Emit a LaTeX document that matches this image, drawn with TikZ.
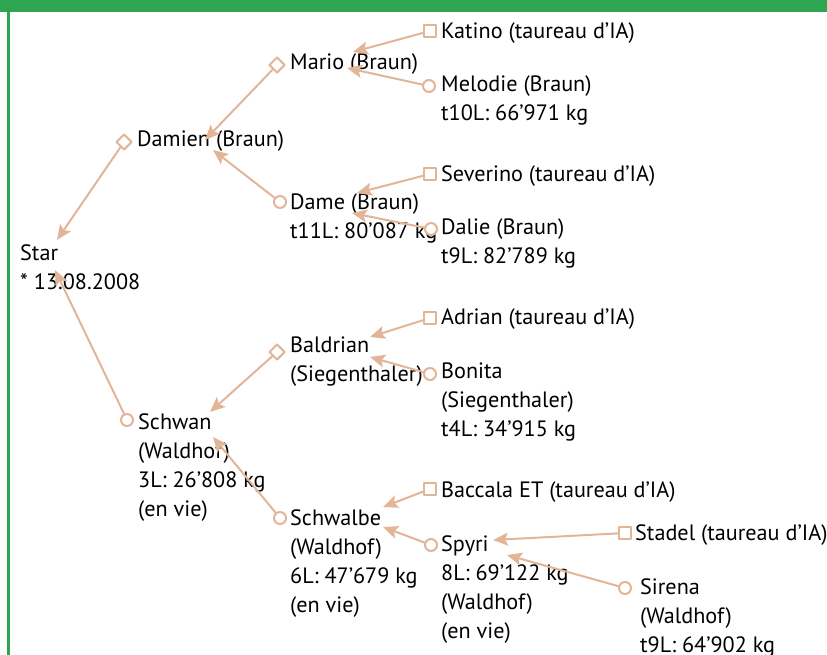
\documentclass[tikz,border=0pt]{standalone}
\usepackage{fontspec}
\setmainfont{PT Sans}
\usetikzlibrary{arrows.meta,shapes.geometric}

\definecolor{headgreen}{RGB}{46,165,80}
\definecolor{linkbrown}{RGB}{226,181,152}

\tikzset{
  animal/.style={anchor=north west,inner sep=0pt,align=left,
    font=\fontsize{22.2}{29}\selectfont,execute at begin node=\strut},
  marker/.style={draw=linkbrown,fill=white,line width=2pt,inner sep=0pt},
  sire/.style={marker,diamond,minimum size=16pt},
  aibull/.style={marker,rectangle,minimum size=12pt},
  dam/.style={marker,circle,minimum size=12pt},
  link/.style={draw=linkbrown,line width=2pt,
    -{Stealth[length=15pt,width=13pt,inset=3pt]}}
}

\begin{document}
\begin{tikzpicture}[x=1pt,y=-1pt,line cap=round,line join=round]
  \useasboundingbox (0,0) rectangle (827,655);
  \fill[headgreen] (0,0) rectangle (827,12);
  \fill[headgreen] (7,12) rectangle (9.5,655);

  % animals
  \node[animal] (star) at (20,244) {Star\\* 13.08.2008};
  \node[animal] (damien) at (137,126) {Damien (Braun)};
  \node[animal] (mario) at (290,49) {Mario (Braun)};
  \node[animal] (katino) at (441,18) {Katino (taureau d’IA)};
  \node[animal] (melodie) at (441,75) {Melodie (Braun)\\t10L: 66'971 kg};
  \node[animal] (dame) at (290,193) {Dame (Braun)\\t11L: 80'087 kg};
  \node[animal] (severino) at (441,161) {Severino (taureau d’IA)};
  \node[animal] (dalie) at (441,218) {Dalie (Braun)\\t9L: 82'789 kg};
  \node[animal] (schwan) at (138,413) {Schwan\\(Waldhof)\\3L: 26'808 kg\\(en vie)};
  \node[animal] (baldrian) at (290,337) {Baldrian\\(Siegenthaler)};
  \node[animal] (adrian) at (441,304) {Adrian (taureau d’IA)};
  \node[animal] (bonita) at (441,363) {Bonita\\(Siegenthaler)\\t4L: 34'915 kg};
  \node[animal] (schwalbe) at (290,509) {Schwalbe\\(Waldhof)\\6L: 47'679 kg\\(en vie)};
  \node[animal] (baccala) at (441,477) {Baccala ET (taureau d’IA)};
  \node[animal] (spyri) at (441,535) {Spyri\\8L: 69'122 kg\\(Waldhof)\\(en vie)};
  \node[animal] (stadel) at (635,520) {Stadel (taureau d’IA)};
  \node[animal] (sirena) at (640,578) {Sirena\\(Waldhof)\\t9L: 64'902 kg};

  % markers
  \node[sire] (damien-m) at ([shift={(-13,16)}]damien.north west) {};
  \node[sire] (mario-m) at ([shift={(-13,16)}]mario.north west) {};
  \node[aibull] (katino-m) at ([shift={(-11,13)}]katino.north west) {};
  \node[dam] (melodie-m) at ([shift={(-12,11)}]melodie.north west) {};
  \node[dam] (dame-m) at ([shift={(-10,9)}]dame.north west) {};
  \node[aibull] (severino-m) at ([shift={(-11,13)}]severino.north west) {};
  \node[dam] (dalie-m) at ([shift={(-10,11)}]dalie.north west) {};
  \node[dam] (schwan-m) at ([shift={(-11,7)}]schwan.north west) {};
  \node[sire] (baldrian-m) at ([shift={(-13,15)}]baldrian.north west) {};
  \node[aibull] (adrian-m) at ([shift={(-11,14)}]adrian.north west) {};
  \node[dam] (bonita-m) at ([shift={(-11,11)}]bonita.north west) {};
  \node[dam] (schwalbe-m) at ([shift={(-10,9)}]schwalbe.north west) {};
  \node[aibull] (baccala-m) at ([shift={(-11,12)}]baccala.north west) {};
  \node[dam] (spyri-m) at ([shift={(-10,10)}]spyri.north west) {};
  \node[aibull] (stadel-m) at ([shift={(-10,13)}]stadel.north west) {};
  \node[dam] (sirena-m) at ([shift={(-15,10)}]sirena.north west) {};

  % links to the parents
  \draw[link] (damien-m) -- ([shift={(37,-4)}]star.north west);
  \draw[link] (schwan-m) -- ([shift={(35,26)}]star.north west);
  \draw[link] (mario-m) -- ([shift={(68,14)}]damien.north west);
  \draw[link] (dame-m) -- ([shift={(76,24)}]damien.north west);
  \draw[link] (katino-m) -- ([shift={(63,3)}]mario.north west);
  \draw[link] (melodie-m) -- ([shift={(57,19)}]mario.north west);
  \draw[link] (severino-m) -- ([shift={(67,0)}]dame.north west);
  \draw[link] (dalie-m) -- ([shift={(62,20)}]dame.north west);
  \draw[link] (baldrian-m) -- ([shift={(72,-1)}]schwan.north west);
  \draw[link] (schwalbe-m) -- ([shift={(75,24)}]schwan.north west);
  \draw[link] (adrian-m) -- ([shift={(80,0)}]baldrian.north west);
  \draw[link] (bonita-m) -- ([shift={(80,20)}]baldrian.north west);
  \draw[link] (baccala-m) -- ([shift={(93,-2)}]schwalbe.north west);
  \draw[link] (spyri-m) -- ([shift={(93,18)}]schwalbe.north west);
  \draw[link] (stadel-m) -- ([shift={(52,5)}]spyri.north west);
  \draw[link] (sirena-m) -- ([shift={(66,20)}]spyri.north west);
\end{tikzpicture}
\end{document}
